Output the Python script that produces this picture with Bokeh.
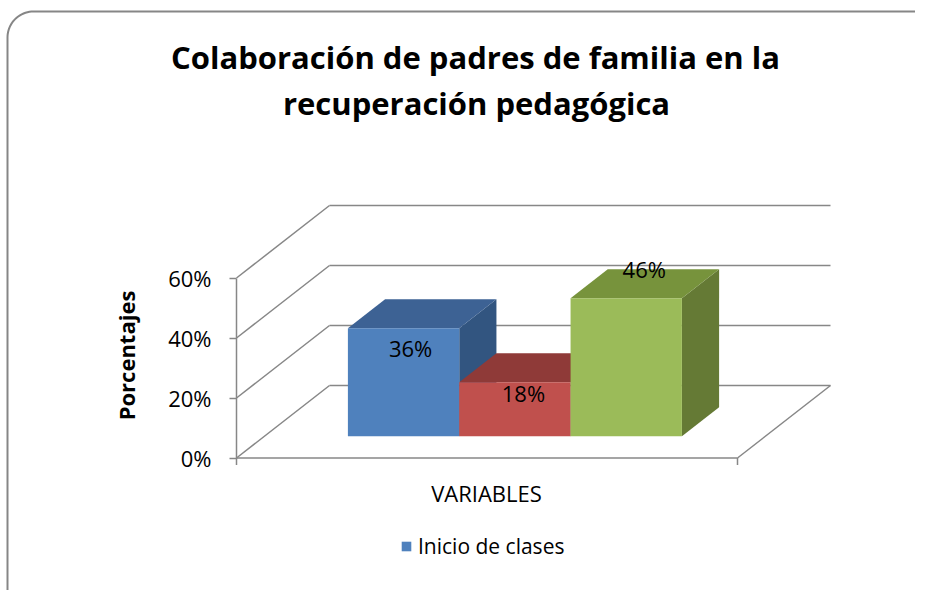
import math
from bokeh.plotting import figure
from bokeh.models import (Range1d, LinearAxis, FixedTicker, CustomJSTickFormatter, Label,
                          Legend, LegendItem)
from bokeh.core.properties import value
from bokeh.embed import file_html
from bokeh.resources import INLINE

# ---------------- data ----------------
title_lines = ["Colaboración de padres de familia en la", "recuperación pedagógica"]
series_name = "Inicio de clases"
values = [36, 18, 46]                      # percentages
y_ticks = [0, 20, 40, 60]
y_title = "Porcentajes"
x_title = "VARIABLES"

front_colors = ["#4F81BD", "#C0504D", "#9BBB59"]
top_colors = ["#3D6294", "#8F3A38", "#77933C"]
side_colors = ["#325580", "#7A302E", "#657A35"]

# ---------------- layout helpers ----------------
W, H = 915, 590
OFF = 0            # picture offset of the figure
K = 3.0            # pixels per percentage point on the front wall
AX_X = 236         # picture x of value axis
Y0 = 457.5         # picture y of 0 %


def px(X):
    return X - AX_X


def py(Y):
    return (Y0 - Y) / K


FLOOR_W = 501.0          # floor width (x units = px)
DX = 93.0                # depth shift in x
DY = 72.5 / K            # depth shift in y (percentage units)
Z0, Z1 = 0.3, 0.7        # bar front/back depth fractions
GRID = "#878787"

p = figure(width=W, height=H,
           x_range=Range1d(px(OFF), px(OFF + W)), y_range=Range1d(py(OFF + H), py(OFF)),
           output_backend="svg", toolbar_location=None,
           x_axis_type=None, y_axis_type=None, min_border=0,
           outline_line_color=None, background_fill_color="white",
           border_fill_color="white")

# rounded chart border (decoration)
R = 26
BL, BT, BR = 7, 11, 948
bx = [BL, BL]
by = [640, BT + R]
for k in range(0, 21):
    a = math.pi - k * (math.pi / 2) / 20
    bx.append(BL + R + R * math.cos(a))
    by.append(BT + R - R * math.sin(a))
for k in range(0, 21):
    a = math.pi / 2 - k * (math.pi / 2) / 20
    bx.append(BR - R + R * math.cos(a))
    by.append(BT + R - R * math.sin(a))
bx.append(BR)
by.append(640)
p.line([px(v) for v in bx], [py(v) for v in by], line_color="#868686", line_width=2)

# walls / floor
p.segment(x0=[DX] * len(y_ticks), y0=[v + DY for v in y_ticks],
          x1=[DX + FLOOR_W] * len(y_ticks), y1=[v + DY for v in y_ticks],
          line_color=GRID, line_width=1.5)
p.segment(x0=[0] * len(y_ticks), y0=y_ticks,
          x1=[DX] * len(y_ticks), y1=[v + DY for v in y_ticks],
          line_color=GRID, line_width=1.5)
p.segment(x0=[0, FLOOR_W, 0, FLOOR_W], y0=[0, 0, 0, 0],
          x1=[FLOOR_W, FLOOR_W + DX, 0, FLOOR_W], y1=[0, DY, -7 / K, -7 / K],
          line_color=GRID, line_width=1.5)

# bars
bw = FLOOR_W / 4.5
x_start = (FLOOR_W - len(values) * bw) / 2
ddx = (Z1 - Z0) * DX
ddy = (Z1 - Z0) * DY
front_renderers = []
lab_x, lab_y = [], []
for i, v in enumerate(values):
    L = x_start + i * bw + Z0 * DX
    Rr = L + bw
    B = Z0 * DY
    T = v + Z0 * DY
    p.patches(xs=[[Rr, Rr, Rr + ddx, Rr + ddx], [L, Rr, Rr + ddx, L + ddx]],
              ys=[[B, T, T + ddy, B + ddy], [T, T, T + ddy, T + ddy]],
              fill_color=[side_colors[i], top_colors[i]], line_color=None)
    r = p.quad(left=[L], right=[Rr], bottom=[B], top=[T],
               fill_color=front_colors[i], line_color=None)
    front_renderers.append(r)
    lab_x.append((L + Rr) / 2)
    lab_y.append(T)

label_dx = [7, 8.5, 18]
label_dy = [20, 11, -29]
p.text(x=lab_x, y=lab_y, text=[f"{v}%" for v in values],
       x_offset=label_dx, y_offset=label_dy,
       text_align="center", text_baseline="middle",
       text_font=value("Open Sans"), text_font_size="22px", text_color="black")

# value axis on the front wall
yaxis = LinearAxis(fixed_location=0, ticker=FixedTicker(ticks=y_ticks),
                   formatter=CustomJSTickFormatter(code="return tick.toFixed(0) + '%';"),
                   bounds=(y_ticks[0], y_ticks[-1]),
                   axis_line_color=GRID, axis_line_width=1.5,
                   major_tick_line_color=GRID, major_tick_line_width=1.5,
                   major_tick_out=7, major_tick_in=0, minor_tick_line_color=None,
                   major_label_text_font="Open Sans", major_label_text_font_size="22px",
                   major_label_text_color="black", major_label_standoff=18)
p.add_layout(yaxis, "left")

# titles
p.add_layout(Label(x=px(475), y=py(56), text=title_lines[0], text_align="center",
                   text_baseline="middle", text_font="Open Sans", text_font_style="bold",
                   text_font_size="31px", text_color="black"))
p.add_layout(Label(x=px(476), y=py(102), text=title_lines[1], text_align="center",
                   text_baseline="middle", text_font="Open Sans", text_font_style="bold",
                   text_font_size="31px", text_color="black"))
p.add_layout(Label(x=px(125), y=py(355), text=y_title, angle=math.pi / 2,
                   text_align="center", text_baseline="middle", text_font="Open Sans",
                   text_font_style="bold", text_font_size="22px", text_color="black"))
p.add_layout(Label(x=px(486), y=py(492), text=x_title, text_align="center",
                   text_baseline="middle", text_font="Open Sans",
                   text_font_size="22px", text_color="black"))

legend = Legend(items=[LegendItem(label=series_name, renderers=[front_renderers[0]])],
                location=(400, 30), orientation="horizontal",
                border_line_color=None, background_fill_alpha=0,
                padding=0, margin=0, glyph_width=12, glyph_height=12,
                label_standoff=6, label_text_font="Open Sans",
                label_text_font_size="21px", label_text_color="black")
p.add_layout(legend)

open("out.html", "w").write(file_html(p, INLINE))
